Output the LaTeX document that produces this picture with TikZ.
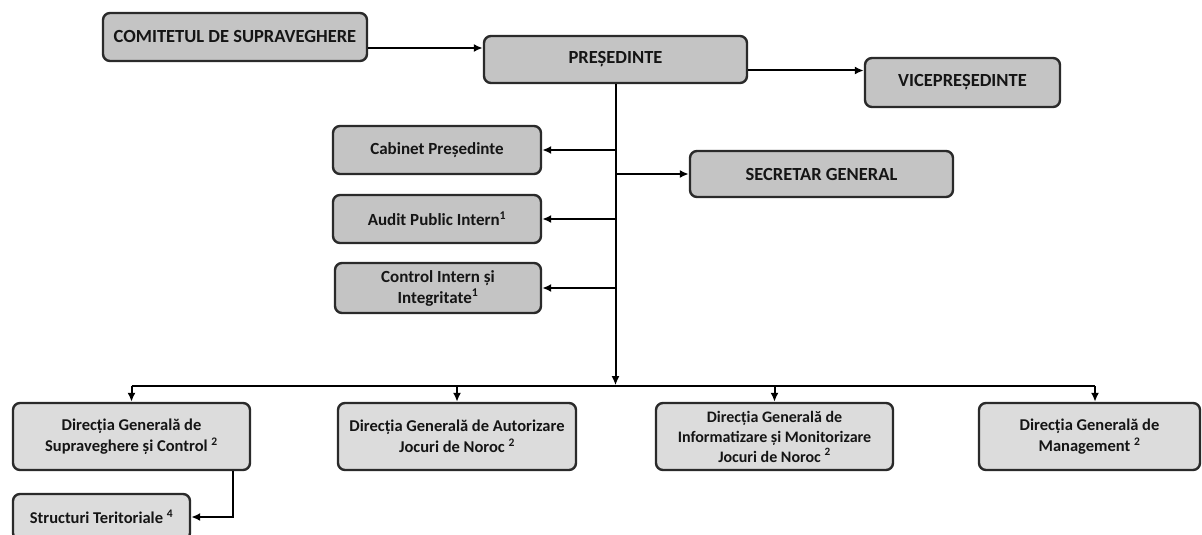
\documentclass[tikz,border=0pt]{standalone}
\usepackage{fontspec}
\setmainfont{Carlito}
\usetikzlibrary{arrows.meta,calc}
\definecolor{boxdark}{HTML}{C4C4C4}
\definecolor{boxlight}{HTML}{DCDCDC}
\definecolor{edge}{HTML}{2A2A2A}
\definecolor{txt}{HTML}{151515}
\tikzset{
  box/.style={draw=edge, line width=2.4pt, rounded corners=7pt, fill=boxdark,
    text=txt, font=\bfseries\fontsize{17}{21}\selectfont, align=center,
    inner sep=0pt, anchor=center},
  capbox/.style={box, font=\bfseries\fontsize{18.5}{22}\selectfont},
  lowbox/.style={box, fill=boxlight, font=\bfseries\fontsize{16.5}{21}\selectfont},
  arr/.style={draw=black, line width=2pt, -{Latex[length=9pt,width=8pt]}},
  ln/.style={draw=black, line width=2pt}
}
\begin{document}
\begin{tikzpicture}[x=1pt,y=-1pt]
\useasboundingbox (0,0) rectangle (1202,535);
\clip (0,0) rectangle (1202,535);
\fill[white] (0,0) rectangle (1202,535);
% top row
\node[capbox, minimum width=264pt, minimum height=48pt] (com) at (235,37) {COMITETUL DE SUPRAVEGHERE};
\node[capbox, minimum width=263pt, minimum height=47pt] (pres) at (615.5,59.5) {PREȘEDINTE};
\node[capbox, minimum width=195pt, minimum height=49pt] (vice) at (962.5,82.5) {VICEPREȘEDINTE};
% staff
\node[box, minimum width=208pt, minimum height=48pt] (cab) at (437,150) {Cabinet Președinte};
\node[box, minimum width=208pt, minimum height=48pt] (aud) at (437,219) {Audit Public Intern\textsuperscript{1}};
\node[box, minimum width=206pt, minimum height=50pt] (ctrl) at (438,288) {Control Intern și\\Integritate\textsuperscript{1}};
\node[capbox, minimum width=263pt, minimum height=46pt] (sec) at (821.5,174) {SECRETAR GENERAL};
% bottom row
\node[lowbox, minimum width=237pt, minimum height=67pt] (dgsc) at (131.5,436.5) {Direcția Generală de\\Supraveghere și Control \textsuperscript{2}};
\node[lowbox, minimum width=238pt, minimum height=67pt] (dga) at (457,436.5) {Direcția Generală de Autorizare\\Jocuri de Noroc \textsuperscript{2}};
\node[lowbox, minimum width=237pt, minimum height=67pt, font=\bfseries\fontsize{16}{20}\selectfont] (dgi) at (774.5,436.5) {Direcția Generală de\\Informatizare și Monitorizare\\Jocuri de Noroc \textsuperscript{2}};
\node[lowbox, minimum width=221pt, minimum height=67pt] (dgm) at (1089.5,436.5) {Direcția Generală de\\Management \textsuperscript{2}};
\node[lowbox, minimum width=177pt, minimum height=46pt] (str) at (101.5,517) {Structuri Teritoriale \textsuperscript{4}};
% connectors
\draw[arr] ([yshift=-11pt]com.east) -- ([yshift=-11pt]com.east -| pres.west);
\draw[arr] ([yshift=-11pt]pres.east) -- ([yshift=-11pt]pres.east -| vice.west);
\coordinate (hub) at ($(pres.south)+(0,302)$);
\draw[arr] (pres.south) -- ([yshift=1pt]hub);
\draw[arr] (pres.south |- cab.east) -- (cab.east);
\draw[arr] (pres.south |- aud.east) -- (aud.east);
\draw[arr] (pres.south |- ctrl.east) -- (ctrl.east);
\draw[arr] (pres.south |- sec.west) -- (sec.west);
\coordinate (bl) at (dgsc.north |- hub);
\coordinate (br) at ([xshift=5.5pt]dgm.north |- hub);
\draw[ln] (bl) -- (br);
\draw[arr] (bl) -- (dgsc.north);
\draw[arr] (dga.north |- hub) -- (dga.north);
\draw[arr] (dgi.north |- hub) -- (dgi.north);
\draw[arr] (br) -- ([xshift=5.5pt]dgm.north);
\draw[arr] ([xshift=101.5pt]dgsc.south) |- (str.east);
\end{tikzpicture}
\end{document}
